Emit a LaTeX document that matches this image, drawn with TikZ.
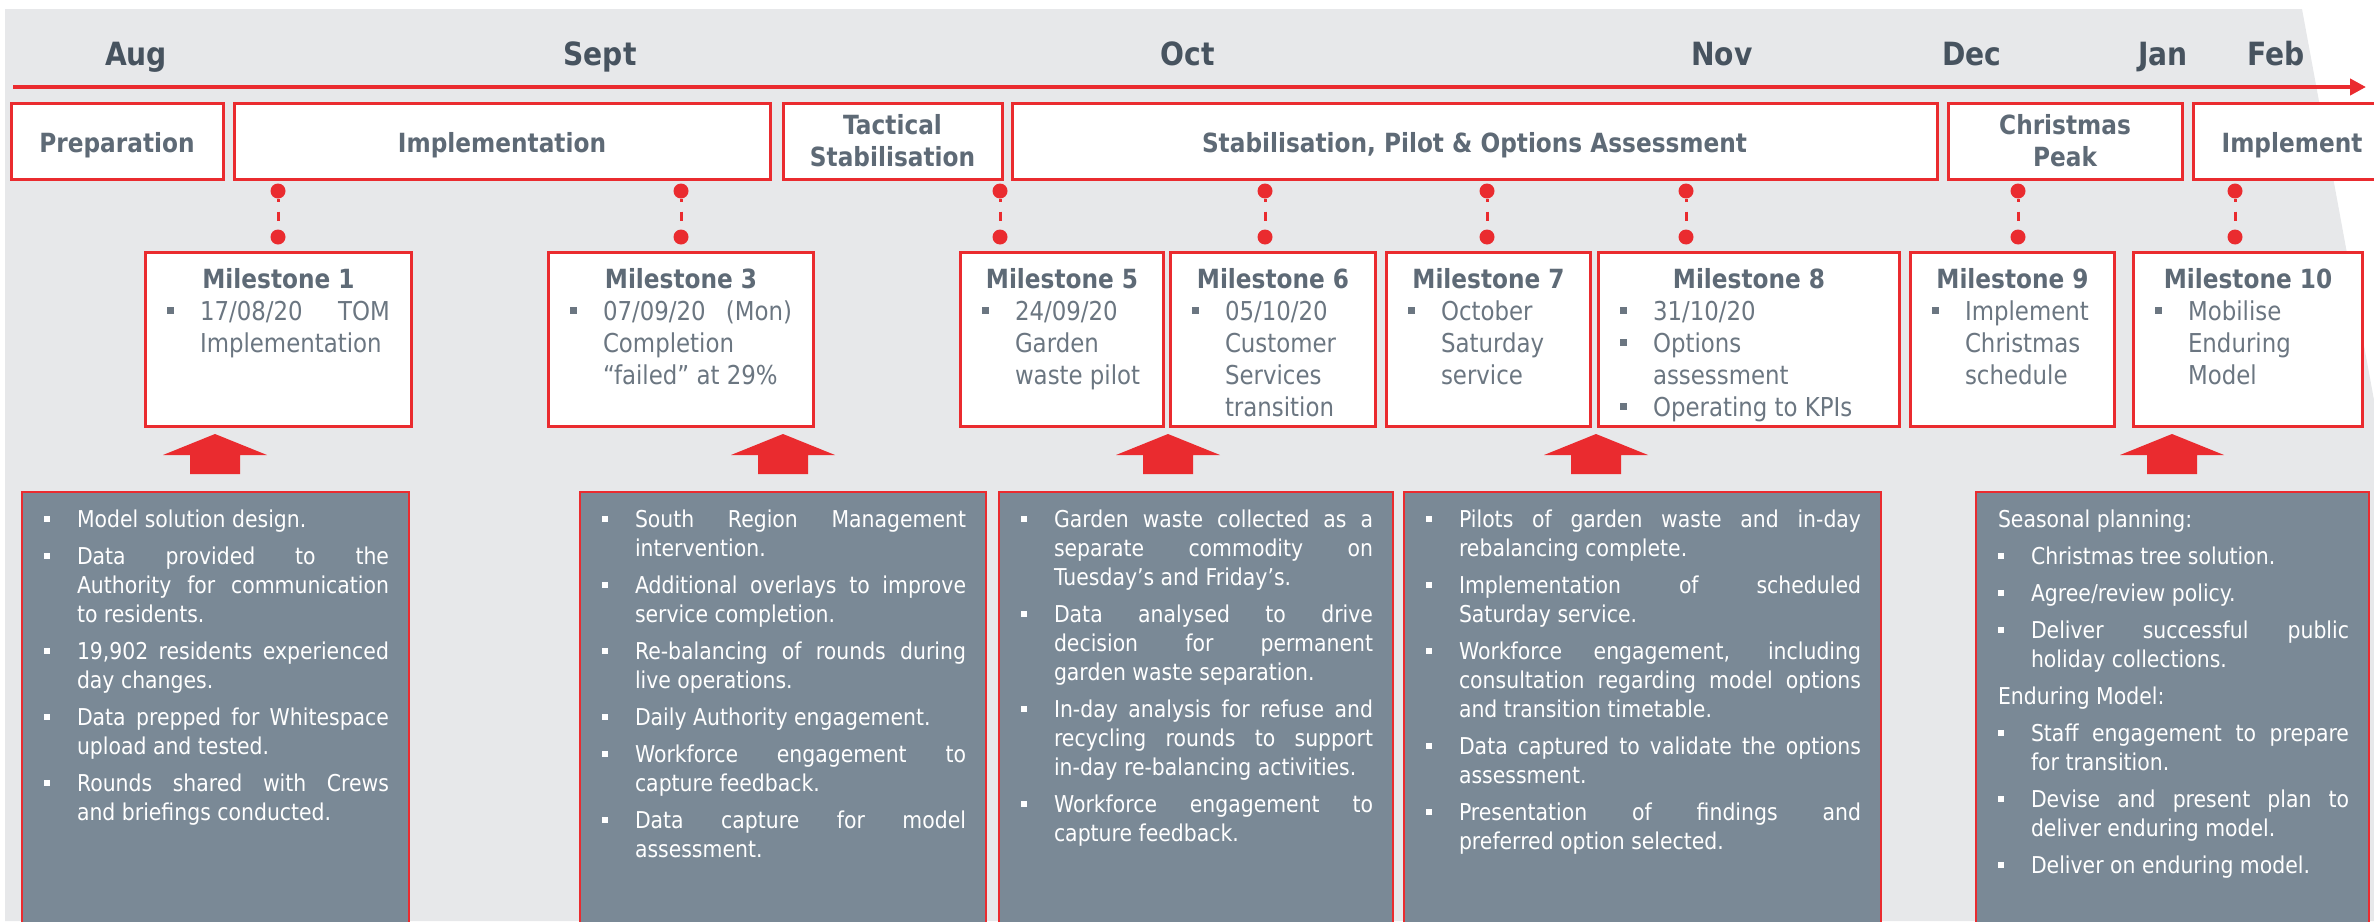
\documentclass[tikz,border=0pt]{standalone}
\usepackage{fontspec}
\setmainfont{DejaVu Sans}[FakeStretch=0.88]
\usetikzlibrary{arrows.meta}
\definecolor{planred}{RGB}{234,43,47}
\definecolor{panel}{RGB}{231,232,234}
\definecolor{slate}{RGB}{122,137,150}
\definecolor{monthtxt}{RGB}{71,83,95}
\definecolor{headtxt}{RGB}{94,106,118}
\definecolor{bodytxt}{RGB}{107,118,129}
\hyphenpenalty=10000
\exhyphenpenalty=10000
\tolerance=10000
\hbadness=10000
\newcommand\planmark{\hangindent=33pt\hangafter=1\noindent\makebox[33pt][l]{\raisebox{0.22em}{\rule{0.27em}{0.27em}}}}
\newcommand\planbul{\par\planmark}
\newcommand\miletitle[1]{{\centering\color{headtxt}\bfseries\fontsize{26.4}{32}\selectfont #1\par}}
\tikzset{
  plan/phase/.style={draw=planred, line width=3pt, fill=white, minimum height=76pt, inner sep=0pt, outer sep=0pt, align=center, text=headtxt, font=\bfseries\fontsize{26.4}{32}\selectfont},
  plan/oneline/.style={text height=22pt, text depth=0pt},
  plan/twoline/.style={text depth=23pt},
  plan/mile/.style={draw=planred, line width=3pt, fill=white, minimum height=174pt, inner sep=0pt, outer sep=0pt},
  plan/miletext/.style={anchor=north west, inner sep=0pt, outer sep=0pt, align=justify, text=bodytxt, font=\fontsize{26}{32}\selectfont},
  plan/note/.style={draw=planred, line width=2.5pt, fill=slate, minimum height=460pt, inner sep=0pt, outer sep=0pt, anchor=north},
  plan/notetext/.style={anchor=north west, inner sep=0pt, outer sep=0pt, align=justify, text=white, font=\fontsize{23.2}{29}\selectfont, execute at begin node={\parskip=8pt}},
  plan/dot/.style={circle, fill=planred, inner sep=0pt, outer sep=0pt, minimum size=15pt},
  plan/stem/.style={planred, line width=3pt, dash pattern=on 3pt off 10pt on 9pt off 10pt},
  plan/month/.style={anchor=base, text=monthtxt, font=\bfseries\fontsize{32}{36}\selectfont}
}

\begin{document}
\begin{tikzpicture}[x=1pt, y=-1pt]
  \useasboundingbox (0,0) rectangle (2374,921);
  \clip (0,0) rectangle (2374,921);
  \fill[panel] (5,9) -- (2302,9) -- (2374,400) -- (2374,921) -- (5,921) -- cycle;

  % months and time axis
  \foreach \x/\m in {136/Aug,600/Sept,1188/Oct,1722/Nov,1972/Dec,2163/Jan,2276/Feb}
    \node[plan/month] (\m) at (\x,65) {\m};
  \coordinate (tlstart) at (13,87);
  \coordinate (tlend) at (2366,87);
  \draw[planred, line width=4pt, -{Triangle[length=16pt,width=16pt]}] (tlstart) -- (tlend);

  % phases
  \node[plan/phase, plan/oneline, minimum width=212pt] (prep) at (117,141) {Preparation};
  \node[plan/phase, plan/oneline, minimum width=536pt] (impl) at (502,141) {Implementation};
  \node[plan/phase, minimum width=219pt] (tact) at (892.5,141) {Tactical\\Stabilisation};
  \node[plan/phase, plan/oneline, minimum width=925pt] (stab) at (1474.5,141) {Stabilisation, Pilot \& Options Assessment};
  \node[plan/phase, minimum width=234pt] (xmas) at (2065,141) {Christmas\\Peak};
  \node[plan/phase, plan/oneline, minimum width=198pt] (impt) at (2292,141) {Implement};

  % pins
  \foreach \x [count=\i] in {278,681,1000,1265,1487,1686,2018,2235} {
    \node[plan/dot] (pin\i) at (\x,191) {};
    \node[plan/dot] (foot\i) at (\x,237) {};
    \draw[plan/stem] (pin\i) -- (foot\i);
  }

  % milestones
  \node[plan/mile, minimum width=266pt] (m1) at (278,339) {};
  \node[plan/mile, minimum width=265pt] (m3) at (680.5,339) {};
  \node[plan/mile, minimum width=203pt] (m5) at (1061.5,339) {};
  \node[plan/mile, minimum width=205pt] (m6) at (1272.5,339) {};
  \node[plan/mile, minimum width=204pt] (m7) at (1488,339) {};
  \node[plan/mile, minimum width=301pt] (m8) at (1748.5,339) {};
  \node[plan/mile, minimum width=204pt] (m9) at (2012,339) {};
  \node[plan/mile, minimum width=229pt] (m10) at (2247.5,339) {};

  \node[plan/miletext, text width=223pt] (m1t) at ([xshift=22pt,yshift=-16pt]m1.north west)
    {\miletitle{Milestone 1}\planbul 17/08/20 TOM\linebreak Implementation\par};
  \node[plan/miletext, text width=222pt] (m3t) at ([xshift=22pt,yshift=-16pt]m3.north west)
    {\miletitle{Milestone 3}\planbul 07/09/20 (Mon)\linebreak Completion\linebreak “failed” at 29\%\par};
  \node[plan/miletext, text width=160pt] (m5t) at ([xshift=22pt,yshift=-16pt]m5.north west)
    {\miletitle{Milestone 5}\planbul 24/09/20\linebreak Garden\linebreak waste pilot\par};
  \node[plan/miletext, text width=162pt] (m6t) at ([xshift=22pt,yshift=-16pt]m6.north west)
    {\miletitle{Milestone 6}\planbul 05/10/20\linebreak Customer\linebreak Services\linebreak transition\par};
  \node[plan/miletext, text width=161pt] (m7t) at ([xshift=22pt,yshift=-16pt]m7.north west)
    {\miletitle{Milestone 7}\planbul October\linebreak Saturday\linebreak service\par};
  \node[plan/miletext, text width=258pt] (m8t) at ([xshift=22pt,yshift=-16pt]m8.north west)
    {\miletitle{Milestone 8}\planbul 31/10/20\planbul Options\linebreak assessment\planbul Operating to KPIs\par};
  \node[plan/miletext, text width=161pt] (m9t) at ([xshift=22pt,yshift=-16pt]m9.north west)
    {\miletitle{Milestone 9}\planbul Implement\linebreak Christmas\linebreak schedule\par};
  \node[plan/miletext, text width=186pt] (m10t) at ([xshift=22pt,yshift=-16pt]m10.north west)
    {\miletitle{Milestone 10}\planbul Mobilise\linebreak Enduring\linebreak Model\par};

  % block arrows
  \foreach \x in {215,783,1168,1596,2172}
    \fill[planred] (\x,434) -- ++(52,21) -- ++(-27,0) -- ++(0,19) -- ++(-50,0) -- ++(0,-19) -- ++(-27,0) -- cycle;

  % activity notes
  \node[plan/note, minimum width=387pt] (n1) at (215.5,492) {};
  \node[plan/note, minimum width=406pt] (n2) at (783,492) {};
  \node[plan/note, minimum width=394pt] (n3) at (1196,492) {};
  \node[plan/note, minimum width=477pt] (n4) at (1642.5,492) {};
  \node[plan/note, minimum width=393pt] (n5) at (2172.5,492) {};

  \node[plan/notetext, text width=345pt] (n1t) at ([xshift=22pt,yshift=-17.5pt]n1.north west)
    {\planmark Model solution design.
     \planbul Data provided to the\linebreak Authority for communication\linebreak to residents.
     \planbul 19,902 residents experienced\linebreak day changes.
     \planbul Data prepped for Whitespace\linebreak upload and tested.
     \planbul Rounds shared with Crews\linebreak and briefings conducted.\par};
  \node[plan/notetext, text width=364pt] (n2t) at ([xshift=22pt,yshift=-17.5pt]n2.north west)
    {\planmark South Region Management\linebreak intervention.
     \planbul Additional overlays to improve\linebreak service completion.
     \planbul Re-balancing of rounds during\linebreak live operations.
     \planbul Daily Authority engagement.
     \planbul Workforce engagement to\linebreak capture feedback.
     \planbul Data capture for model\linebreak assessment.\par};
  \node[plan/notetext, text width=352pt] (n3t) at ([xshift=22pt,yshift=-17.5pt]n3.north west)
    {\planmark Garden waste collected as a\linebreak separate commodity on\linebreak Tuesday’s and Friday’s.
     \planbul Data analysed to drive\linebreak decision for permanent\linebreak garden waste separation.
     \planbul In-day analysis for refuse and\linebreak recycling rounds to support\linebreak in-day re-balancing activities.
     \planbul Workforce engagement to\linebreak capture feedback.\par};
  \node[plan/notetext, text width=435pt] (n4t) at ([xshift=22pt,yshift=-17.5pt]n4.north west)
    {\planmark Pilots of garden waste and in-day\linebreak rebalancing complete.
     \planbul Implementation of scheduled\linebreak Saturday service.
     \planbul Workforce engagement, including\linebreak consultation regarding model options\linebreak and transition timetable.
     \planbul Data captured to validate the options\linebreak assessment.
     \planbul Presentation of findings and\linebreak preferred option selected.\par};
  \node[plan/notetext, text width=351pt] (n5t) at ([xshift=22pt,yshift=-17.5pt]n5.north west)
    {\noindent Seasonal planning:
     \planbul Christmas tree solution.
     \planbul Agree/review policy.
     \planbul Deliver successful public\linebreak holiday collections.
     \par\noindent Enduring Model:
     \planbul Staff engagement to prepare\linebreak for transition.
     \planbul Devise and present plan to\linebreak deliver enduring model.
     \planbul Deliver on enduring model.\par};
\end{tikzpicture}
\end{document}
